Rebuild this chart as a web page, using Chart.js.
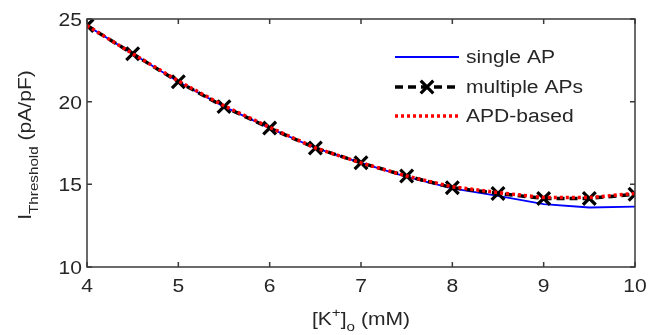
<!DOCTYPE html>
<html>
<head>
<meta charset="utf-8">
<script src="https://cdn.jsdelivr.net/npm/chart.js@4.4.0/dist/chart.umd.min.js"></script>
<style>
  html, body { margin: 0; padding: 0; background: #fff; }
  #wrap { width: 659px; height: 335px; }
</style>
</head>
<body>
<div id="wrap"><canvas id="myChart" width="659" height="335"></canvas></div>
<script>
"use strict";
// extracellular K+ (mM)
const kConc = [4, 4.5, 5, 5.5, 6, 6.5, 7, 7.5, 8, 8.5, 9, 9.5, 10];
const singleAP = [24.6, 22.9, 21.2, 19.7, 18.4, 17.2, 16.3, 15.45, 14.75, 14.3, 13.8, 13.6, 13.65];
const multipleAPs = [24.6, 22.9, 21.2, 19.7, 18.4, 17.2, 16.3, 15.5, 14.8, 14.45, 14.15, 14.15, 14.4];
const apdBased = [24.6, 22.9, 21.25, 19.75, 18.45, 17.2, 16.3, 15.5, 14.85, 14.5, 14.2, 14.2, 14.45];
const xTicks = [4, 5, 6, 7, 8, 9, 10];
const yTicks = [10, 15, 20, 25];
const legendNames = ['single AP', 'multiple APs', 'APD-based'];

const FONT = '"Liberation Sans", Arial, sans-serif';
const AXIS_COLOR = '#3a3a3a';
const TEXT_COLOR = '#262626';
const SX = 1.17; // the original text is a bit wider than Arial

function pts(ys) {
  var out = [];
  for (let i = 0; i < kConc.length; i++) {
    out.push({x: kConc[i], y: ys[i]});
  }
  return out;
}

function textW(ctx, s, font) {
  ctx.font = font;
  return ctx.measureText(s).width * SX;
}

// draws a run of [text, font, baselineShift] pieces starting at x (in the current frame)
function drawRun(ctx, parts, x, y) {
  parts.forEach(p => {
    ctx.font = p[1];
    ctx.save();
    ctx.translate(x, y + p[2]);
    ctx.scale(SX, 1);
    ctx.fillText(p[0], 0, 0);
    ctx.restore();
    x += ctx.measureText(p[0]).width * SX;
  });
}

function runW(ctx, parts) {
  let w = 0;
  parts.forEach(p => { w += textW(ctx, p[0], p[1]); });
  return w;
}

// matlab style box, inward ticks, tick labels, titles and legend
const matlabPlugin = {
  id: 'matlab',
  afterDraw(chart) {
    const ctx = chart.ctx;
    const a = chart.chartArea;
    const xs = chart.scales.x, ys = chart.scales.y;
    const big = '18px ' + FONT, small = '13px ' + FONT;
    ctx.save();
    ctx.strokeStyle = AXIS_COLOR;
    ctx.lineWidth = 1.5;
    ctx.strokeRect(a.left, a.top, a.right - a.left, a.bottom - a.top);
    ctx.beginPath();
    xTicks.forEach(v => {
      const px = xs.getPixelForValue(v);
      ctx.moveTo(px, a.bottom); ctx.lineTo(px, a.bottom - 5);
      ctx.moveTo(px, a.top); ctx.lineTo(px, a.top + 5);
    });
    yTicks.forEach(v => {
      const py = ys.getPixelForValue(v);
      ctx.moveTo(a.left, py); ctx.lineTo(a.left + 5, py);
      ctx.moveTo(a.right, py); ctx.lineTo(a.right - 5, py);
    });
    ctx.stroke();

    ctx.fillStyle = TEXT_COLOR;
    ctx.textAlign = 'left';

    // tick labels
    ctx.textBaseline = 'middle';
    yTicks.forEach(v => {
      const s = String(v);
      const w = textW(ctx, s, big);
      drawRun(ctx, [[s, big, 0]], a.left - 5 - w, ys.getPixelForValue(v) + 2);
    });
    xTicks.forEach(v => {
      const s = String(v);
      const w = textW(ctx, s, big);
      drawRun(ctx, [[s, big, 0]], xs.getPixelForValue(v) - w / 2, 287);
    });

    // y title
    ctx.textBaseline = 'alphabetic';
    const yParts = [['I', big, 0], ['Threshold', small, 7], [' (pA/pF)', big, 0]];
    ctx.save();
    ctx.translate(31, 145);
    ctx.rotate(-Math.PI / 2);
    drawRun(ctx, yParts, -runW(ctx, yParts) / 2, 0);
    ctx.restore();

    // x title
    const xParts = [['[K', big, 0], ['+', small, -8], [']', big, 0], ['o', small, 6], [' (mM)', big, 0]];
    drawRun(ctx, xParts, (a.left + a.right) / 2 - runW(ctx, xParts) / 2, 325);

    // legend
    const ds = chart.data.datasets;
    const rows = [57, 87, 116];
    ctx.textBaseline = 'middle';
    for (let i = 0; i < ds.length; i++) {
      const d = ds[i];
      ctx.strokeStyle = d.borderColor;
      ctx.lineWidth = d.borderWidth;
      ctx.setLineDash(d.borderDash || []);
      ctx.beginPath();
      ctx.moveTo(395, rows[i]); ctx.lineTo(459, rows[i]);
      ctx.stroke();
      ctx.setLineDash([]);
      if (d.pointRadius > 0) {
        const r = d.pointRadius * 0.7;
        ctx.lineWidth = d.pointBorderWidth;
        ctx.strokeStyle = d.pointBorderColor;
        ctx.beginPath();
        ctx.moveTo(427 - r, rows[i] - r); ctx.lineTo(427 + r, rows[i] + r);
        ctx.moveTo(427 - r, rows[i] + r); ctx.lineTo(427 + r, rows[i] - r);
        ctx.stroke();
      }
      ctx.fillStyle = TEXT_COLOR;
      drawRun(ctx, [[d.label, big, 0]], 466, rows[i] + 1);
    }
    ctx.restore();
  }
};

let myChart = document.getElementById("myChart").getContext("2d");
var thresholdChart = new Chart(myChart, {
  type: 'line',
  data: {
    datasets: [{
      label: legendNames[0],
      data: pts(singleAP),
      borderColor: '#0000ff',
      borderWidth: 1.8,
      pointRadius: 0,
      order: 3
    }, {
      label: legendNames[1],
      data: pts(multipleAPs),
      borderColor: '#000000',
      borderWidth: 3.5,
      borderDash: [8, 5],
      pointStyle: 'crossRot',
      pointRadius: 9,
      pointBorderWidth: 3.2,
      pointBorderColor: '#000000',
      order: 2
    }, {
      label: legendNames[2],
      data: pts(apdBased),
      borderColor: '#ff0000',
      borderWidth: 3.5,
      borderDash: [3, 3],
      pointRadius: 0,
      order: 1
    }]
  },
  options: {
    responsive: false,
    animation: false,
    layout: { padding: { top: 19, right: 24, left: 0, bottom: 0 } },
    plugins: {
      legend: { display: false },
      tooltip: { enabled: false },
      title: { display: false }
    },
    scales: {
      x: {
        type: 'linear',
        min: 4, max: 10,
        afterBuildTicks: s => { s.ticks = xTicks.map(v => ({value: v})); },
        afterFit: s => { s.height = 68; },
        grid: { display: false },
        border: { display: false },
        ticks: { display: false }
      },
      y: {
        min: 10, max: 25,
        afterBuildTicks: s => { s.ticks = yTicks.map(v => ({value: v})); },
        afterFit: s => { s.width = 87; },
        grid: { display: false },
        border: { display: false },
        ticks: { display: false }
      }
    }
  },
  plugins: [matlabPlugin]
});
</script>
</body>
</html>
